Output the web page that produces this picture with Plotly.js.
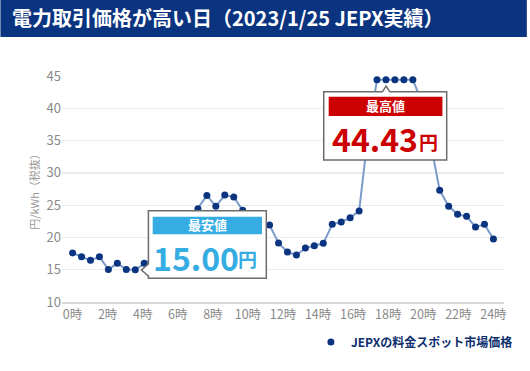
<!DOCTYPE html>
<html><head><meta charset="utf-8">
<script src="https://cdn.plot.ly/plotly-3.0.1.min.js"></script>
<style>html,body{margin:0;padding:0;background:#fff;}#chart{width:530px;height:371px;}</style>
</head><body><div id="chart"></div>
<script>
// ---- data (yen/kWh, 30-minute slots of 2023/1/25) ----
const slotPrices = [17.6,17.03,16.46,17.03,15.02,15.99,15.02,15.00,16.0,16.9,17.8,19.0,20.6,22.6,
  24.46,26.52,24.82,26.57,26.26,24.2,23.3,22.4,21.93,19.14,17.74,17.28,18.36,18.73,19.09,22.03,22.39,
  23.07,24.1,36.0,44.43,44.43,44.43,44.43,44.43,41.0,34.5,27.3,24.82,23.58,23.27,21.62,22.03,19.76];
const tickLabels = ['0時','2時','4時','6時','8時','10時','12時','14時','16時','18時','20時','22時','24時'];
const yTicks = [10,15,20,25,30,35,40,45];
const seriesName = 'JEPXの料金スポット市場価格';
const titleText = '電力取引価格が高い日（2023/1/25 JEPX実績）';
const yTitle = '円/kWh（税抜）';
const minLabel = '最安値', maxLabel = '最高値', unitLabel = '円';

// ---- layout helpers ----
const W = 530, H = 371, ML = 62, MR = 23, MT = 76, MB = 69;
const PW = W - ML - MR, PH = H - MT - MB;
const px = x => (x - ML) / PW;
const py = y => (H - MB - y) / PH;
const FONT = 'Noto Sans CJK JP, Noto Sans, sans-serif';

const slots = slotPrices.map((_, i) => i);
const n = slotPrices.length;
const tickVals = tickLabels.map((_, k) => k * (n - 1) / (tickLabels.length - 1));
const minVal = Math.min(...slotPrices), maxVal = Math.max(...slotPrices);

const navy = '#0b3480', gray = '#6b6b6b', blue = '#35ace2', red = '#cc0000';

function rect(x0, y0, x1, y1, fill, line, lw) {
  return {type:'rect', xref:'paper', yref:'paper', x0:px(x0), x1:px(x1), y0:py(y1), y1:py(y0),
    fillcolor:fill, line:{color:line || fill, width: lw || 0}, layer:'above'};
}
function path(pts, fill, line, lw) {
  const d = pts.map((p, i) => (i ? 'L' : 'M') + px(p[0]) + ',' + py(p[1])).join(' ');
  return {type:'path', xref:'paper', yref:'paper', path:d, fillcolor:fill, line:{color:line, width:lw}, layer:'above'};
}
function txt(x, y, text, size, color) {
  return {xref:'paper', yref:'paper', x:px(x), y:py(y), xanchor:'center', yanchor:'middle', borderpad:0,
    text:text, showarrow:false, font:{family:FONT, size:size, color:color}};
}

const shapes = [
  rect(0, 0, 530, 37, navy),
  // low box
  rect(149, 210.7, 267.7, 278.3, '#ffffff', gray, 1.5),
  rect(147.5, 264.5, 150.5, 275.5, '#ffffff'),
  path([[149.2,263.8],[142,270],[149.2,276.2]], '#ffffff', gray, 1.5),
  rect(153.3, 216.7, 263.3, 234.3, blue),
  // high box
  rect(325.5, 91.7, 449.3, 160, '#ffffff', gray, 1.5),
  rect(384.8, 90, 391.8, 93.2, '#ffffff'),
  path([[384.5,91.9],[388.3,86.2],[392.1,91.9]], '#ffffff', gray, 1.5),
  rect(330.5, 96.7, 445, 116, red)
];

const annotations = [
  txt(208.3, 224.8, '<b>' + minLabel + '</b>', 13, '#ffffff'),
  txt(197.3, 256.5, '<b>' + minVal.toFixed(2) + '</b>', 32, blue),
  txt(249, 258.5, '<b>' + unitLabel + '</b>', 19, blue),
  txt(387.8, 105.8, '<b>' + maxLabel + '</b>', 13, '#ffffff'),
  txt(377.5, 138, '<b>' + maxVal.toFixed(2) + '</b>', 32, red),
  txt(430.5, 141.5, '<b>' + unitLabel + '</b>', 19, red)
];

const traces = [
  {x:slots, y:slotPrices, type:'scatter', mode:'lines', showlegend:false, hoverinfo:'skip',
   line:{color:'#7b9bcb', width:2}},
  {x:slots, y:slotPrices, type:'scatter', mode:'markers', name:'<b>' + seriesName + '</b>',
   marker:{color:navy, size:7}}
];

const layout = {
  width:W, height:H, margin:{l:ML, r:MR, t:MT, b:MB}, paper_bgcolor:'#ffffff', plot_bgcolor:'#ffffff',
  font:{family:FONT},
  title:{text:'<b>' + titleText + '</b>', xref:'container', x:12/W, xanchor:'left', yref:'container', y:1 - 18.5/H, yanchor:'middle',
    font:{family:FONT, size:20, color:'#ffffff'}},
  xaxis:{range:[-1.18, n - 1 + 1.18], tickmode:'array', tickvals:tickVals, ticktext:tickLabels, showgrid:false,
    zeroline:false, showline:true, linecolor:'#d9d9d9', linewidth:1.5, ticks:'', ticklen:0,
    tickfont:{family:FONT, size:12.5, color:'#8a8a8a'}, fixedrange:true},
  yaxis:{range:[10, 45.02], tickmode:'array', tickvals:yTicks, showgrid:true, gridcolor:'#ebebeb', gridwidth:1.2,
    zeroline:false, showline:false, ticks:'', tickfont:{family:FONT, size:13, color:'#8a8a8a'},
    title:{text:yTitle, font:{family:FONT, size:11, color:'#9a9a9a'}, standoff:4}, fixedrange:true},
  legend:{x:px(521), xanchor:'right', y:py(342), yanchor:'middle', font:{family:FONT, size:12, color:'#0d2f6e'},
    bgcolor:'rgba(0,0,0,0)', itemwidth:30},
  shapes:shapes, annotations:annotations, showlegend:true
};
Plotly.newPlot('chart', traces, layout, {displayModeBar:false, staticPlot:true});
</script></body></html>
